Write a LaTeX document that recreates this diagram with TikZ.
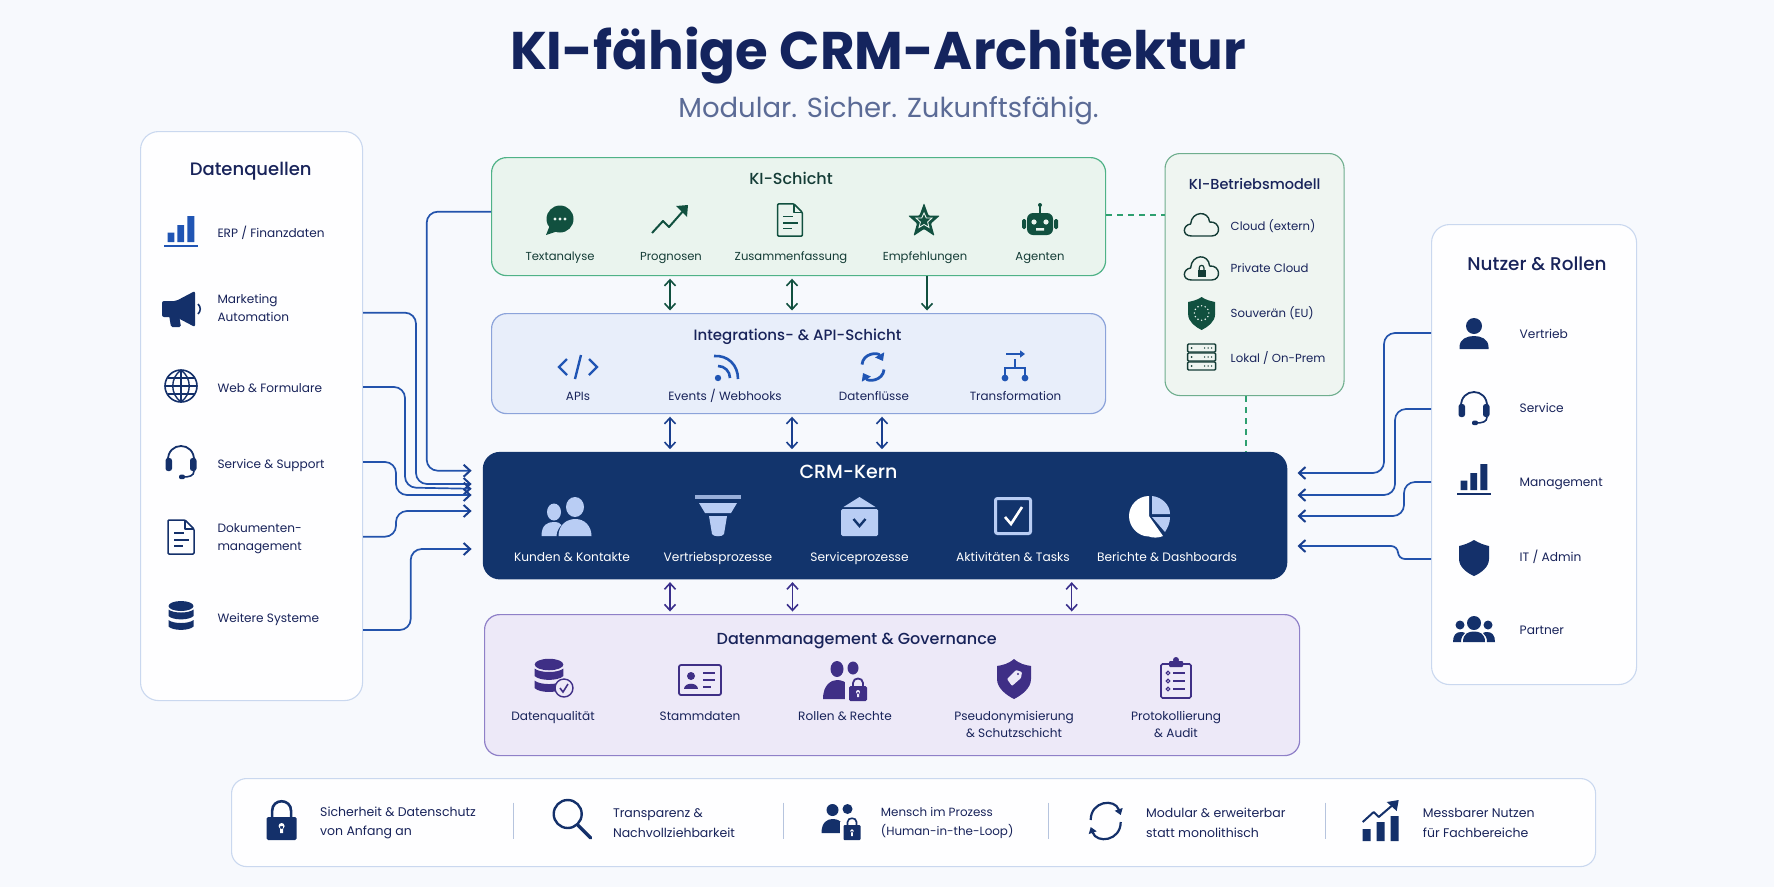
\documentclass[tikz,border=0pt]{standalone}
\usepackage{fontspec}
\setmainfont{Poppins}
\newfontfamily\pmed{Poppins Medium}
\newfontfamily\psemi{Poppins SemiBold}
\usetikzlibrary{arrows.meta,calc}
\definecolor{bgc}{HTML}{F7F9FD}
\definecolor{panelf}{HTML}{FEFEFF}
\definecolor{panelb}{HTML}{CAD8EF}
\definecolor{kif}{HTML}{EAF4EE}
\definecolor{kib}{HTML}{4FB287}
\definecolor{intf}{HTML}{E8EEFA}
\definecolor{intb}{HTML}{8CA3DA}
\definecolor{kernf}{HTML}{12346C}
\definecolor{datf}{HTML}{EDE9F8}
\definecolor{datb}{HTML}{8F80C8}
\definecolor{betf}{HTML}{EFF5F1}
\definecolor{betb}{HTML}{6FAE8E}
\definecolor{navy}{HTML}{14306A}
\definecolor{navytxt}{HTML}{18235A}
\definecolor{titlec}{HTML}{14245E}
\definecolor{subc}{HTML}{5B6B96}
\definecolor{greend}{HTML}{11503F}
\definecolor{greent}{HTML}{143C36}
\definecolor{blue2}{HTML}{2055B4}
\definecolor{link}{HTML}{2353AC}
\definecolor{linkd}{HTML}{1A3F8E}
\definecolor{purp}{HTML}{3F2F86}
\definecolor{purpl}{HTML}{3A2F8C}
\definecolor{lightb}{HTML}{B9CDF4}
\definecolor{dashg}{HTML}{2FA070}
\definecolor{sepc}{HTML}{B6C4DE}
\colorlet{icbg}{white}
\tikzset{
  panel/.style={draw=panelb,fill=panelf,line width=1.1pt,rounded corners=18pt,anchor=north west,inner sep=0pt},
  kibox/.style={draw=kib,fill=kif,line width=1.2pt,rounded corners=15pt,anchor=north west,inner sep=0pt},
  intbox/.style={draw=intb,fill=intf,line width=1.2pt,rounded corners=15pt,anchor=north west,inner sep=0pt},
  kernbox/.style={fill=kernf,rounded corners=17pt,anchor=north west,inner sep=0pt},
  datbox/.style={draw=datb,fill=datf,line width=1.2pt,rounded corners=15pt,anchor=north west,inner sep=0pt},
  betbox/.style={draw=betb,fill=betf,line width=1.1pt,rounded corners=15pt,anchor=north west,inner sep=0pt},
  head/.style={font=\pmed\fontsize{18}{22}\selectfont,text=navytxt,inner sep=0pt},
  layert/.style={font=\pmed\fontsize{15}{18}\selectfont,text=navytxt,inner sep=0pt},
  itemc/.style={font=\fontsize{11.6}{17.5}\selectfont,text=navytxt,inner sep=0pt,align=center,text height=10.3pt,text depth=1.3pt},
  iteml/.style={font=\fontsize{12.1}{18}\selectfont,text=navytxt,inner sep=0pt,align=left,anchor=west,text height=10.3pt,text depth=1.3pt},
  multi/.style={text height=,text depth=},
  botl/.style={font=\fontsize{12.5}{19.5}\selectfont,text=navytxt,inner sep=0pt,align=left,anchor=west},
  conn/.style={draw=link,line width=1.7pt,rounded corners=11pt,shorten >=11pt,-{Straight Barb[length=6.5pt,width=12pt,line width=2pt,color=linkd]}},
  gv/.style={draw=greend,line width=1.4pt,shorten <=2.5pt,shorten >=2.5pt,{Straight Barb[length=6pt,width=11pt,line width=1.6pt]}-{Straight Barb[length=6pt,width=11pt,line width=1.6pt]}},
  gdown/.style={draw=greend,line width=1.4pt,shorten >=2.5pt,-{Straight Barb[length=6pt,width=11pt,line width=1.6pt]}},
  bv/.style={draw=linkd,line width=1.4pt,shorten <=2.5pt,shorten >=2.5pt,{Straight Barb[length=6pt,width=11pt,line width=1.6pt]}-{Straight Barb[length=6pt,width=11pt,line width=1.6pt]}},
  pv/.style={draw=purpl,line width=1.4pt,shorten <=2.5pt,shorten >=2.5pt,{Straight Barb[length=6pt,width=11pt,line width=1.6pt]}-{Straight Barb[length=6pt,width=11pt,line width=1.6pt]}},
  gdash/.style={draw=dashg,line width=1.5pt,dash pattern=on 6pt off 5pt},
  sepl/.style={draw=sepc,line width=1pt},
  % ---- icons
  icbars/.pic={
    \fill (-13.3,0.7) rectangle (-6.7,10) (-3.7,-7) rectangle (3,10) (6.3,-16) rectangle (13.3,10);
    \fill (-17,13) rectangle (17,15.2);},
  icmega/.pic={
    \fill[rounded corners=2pt] (-19,-8) -- (-5,-8) -- (14,-18) -- (14,18) -- (-5,8) -- (-19,8) -- cycle;
    \fill[rounded corners=1.5pt] (-12,6) -- (-2,6) -- (0,18) -- (-10,18) -- cycle;
    \draw[line width=1.6pt] (17,-5) .. controls (20,-2) and (20,2) .. (17,5);},
  icglobe/.pic={
    \draw[line width=1.6pt] (0,0) circle (16);
    \draw[line width=1.4pt] (0,-16) .. controls (-11,-8) and (-11,8) .. (0,16) .. controls (11,8) and (11,-8) .. (0,-16);
    \draw[line width=1.4pt] (0,-16) -- (0,16) (-16,0) -- (16,0) (-13.5,-8) -- (13.5,-8) (-13.5,8) -- (13.5,8);},
  icphones/.pic={
    \draw[line width=1.8pt] (-13,-1) .. controls (-14,-21) and (14,-21) .. (13,-1);
    \fill[rounded corners=2.5pt] (-15.5,-4) rectangle (-9,9);
    \fill[rounded corners=2.5pt] (9,-4) rectangle (15.5,9);
    \draw[line width=1.6pt] (13,9) .. controls (13,14) and (8,15) .. (2,15);
    \fill[rounded corners=2pt] (-2,12.6) rectangle (4,17.2);},
  icdoc/.pic={
    \draw[line width=1.5pt,line join=round,rounded corners=1pt] (-13,-17) -- (4,-17) -- (13,-8) -- (13,17) -- (-13,17) -- cycle;
    \draw[line width=1.4pt,line join=round] (4,-17) -- (4,-8) -- (13,-8);
    \draw[line width=1.4pt] (-7,-4) -- (3,-4) (-7,3) -- (8,3) (-7,9) -- (2,9);},
  icdb/.pic={
    \fill (0,-10) ellipse (12.5 and 5);
    \foreach \d in {0,10.5}{
      \fill[shift={(0,\d)}] (-12.5,-6.5) .. controls (-8,-2.5) and (8,-2.5) .. (12.5,-6.5) -- (12.5,0) .. controls (8,4.5) and (-8,4.5) .. (-12.5,0) -- cycle;}
  },
  icchat/.pic={
    \fill (0,-1) circle (13.5);
    \fill (-10,5) -- (-14,15) -- (-2,11) -- cycle;
    \fill[icbg] (-5,-1) circle (1.6) (0,-1) circle (1.6) (5,-1) circle (1.6);},
  ictrend/.pic={
    \draw[line width=2pt,line join=round] (-18,13) -- (-7,1) -- (-1,7) -- (14,-10);
    \fill (6,-14) -- (18,-15) -- (17,-3) -- cycle;},
  icstar/.pic={
    \fill[rounded corners=1pt] (0,-18) -- (4.5,-5.5) -- (16,-5.5) -- (7,2.5) -- (10.5,15) -- (0,8) -- (-10.5,15) -- (-7,2.5) -- (-16,-5.5) -- (-4.5,-5.5) -- cycle;
    \draw[icbg,line width=0.9pt] (0,-8) -- (2.3,-3) -- (8,-3) -- (3.6,1) -- (5,6.5) -- (0,3.5) -- (-5,6.5) -- (-3.6,1) -- (-8,-3) -- (-2.3,-3) -- cycle;},
  icrobot/.pic={
    \fill[rounded corners=6pt] (-13,-7) rectangle (13,15);
    \fill[rounded corners=1.5pt] (-18,-1) rectangle (-14,9) (14,-1) rectangle (18,9);
    \draw[line width=1.4pt] (0,-7) -- (0,-14);
    \fill (0,-15) circle (2);
    \fill[icbg] (-6,2) circle (2.6) (6,2) circle (2.6) (-4,8) rectangle (4,10.5);},
  iccode/.pic={
    \draw[line width=2.4pt] (-11,-8) -- (-19,0) -- (-11,8) (11,-8) -- (19,0) -- (11,8) (3,-12) -- (-3,12);},
  icrss/.pic={
    \fill (-7,11) circle (3.2);
    \draw[line width=2.6pt] (-7,-1) arc[start angle=-90,end angle=0,radius=12];
    \draw[line width=2.6pt] (-11,-11) .. controls (3,-12) and (13,-2) .. (13,12);},
  icsync/.pic={
    \draw[line width=2.8pt,-{Triangle[length=7pt,width=10pt]}] (-11,-2.5) .. controls (-10,-14) and (5,-15) .. (10,-6);
    \draw[line width=2.8pt,-{Triangle[length=7pt,width=10pt]}] (11,2.5) .. controls (10,14) and (-5,15) .. (-10,6);},
  ictrans/.pic={
    \draw[line width=2pt,-{Triangle[length=5pt,width=7pt]}] (-9,-13) -- (10,-13);
    \draw[line width=1.8pt] (0,-8) -- (0,1) (-10,9) -- (-10,1) -- (10,1) -- (10,9);
    \fill (-10,11) circle (3.4) (10,11) circle (3.4);},
  icpeople/.pic={
    \fill (-12.5,-4) ellipse (7 and 8.5);
    \fill (8.5,-9) ellipse (9 and 10);
    \fill (-25,20) .. controls (-25,9) and (-19,6) .. (-13,6) .. controls (-9,6) and (-6,7) .. (-5,9) .. controls (-8,12) and (-10,16) .. (-10,20) -- cycle;
    \fill (-8,20) .. controls (-8,9) and (0,3) .. (9,3) .. controls (18,3) and (25,10) .. (25,20) -- cycle;},
  icfunnel/.pic={
    \fill[color=lightb!80!kernf] (-23,-21) rectangle (23,-17);
    \fill[color=lightb] (-19,-13) -- (19,-13) -- (13,-3) -- (-13,-3) -- cycle;
    \fill[color=lightb] (-9,0) -- (9,0) -- (6,18) .. controls (5,21) and (-5,21) .. (-6,18) -- cycle;},
  icmail/.pic={
    \fill[color=lightb] (0,-19) -- (16,-9) -- (-16,-9) -- cycle;
    \fill[color=lightb,rounded corners=1.5pt] (-18.5,-7) rectangle (18.5,20);
    \draw[draw=kernf,line width=2.4pt] (-6,3) -- (0,10) -- (6,3);},
  iccheck/.pic={
    \draw[color=lightb,line width=3pt,rounded corners=2pt] (-17.5,-17.5) rectangle (17.5,17.5);
    \draw[color=white,line width=2.6pt] (-8,1) -- (-2,8) -- (9,-9);},
  icpie/.pic={
    \fill[color=white] (0,0) -- (14,20) .. controls (10,22) and (3,22) .. (0,20.5)  .. controls (-11,20.5) and (-20,11) .. (-20,0) .. controls (-20,-11) and (-11,-20) .. (0,-20) -- cycle;
    \fill[color=lightb] (3,-2) -- (3,-20) .. controls (13,-19) and (21,-11) .. (21,-2) -- cycle;
    \fill[color=lightb] (3,1) -- (21,1) .. controls (21,7) and (19,11) .. (16,16) -- cycle;},
  icdbc/.pic={
    \begin{scope}[shift={(-3,-3)},scale=1.15]
    \fill (0,-10) ellipse (12.5 and 5);
    \foreach \d in {0,10.5}{
      \fill[shift={(0,\d)}] (-12.5,-6.5) .. controls (-8,-2.5) and (8,-2.5) .. (12.5,-6.5) -- (12.5,0) .. controls (8,4.5) and (-8,4.5) .. (-12.5,0) -- cycle;}
    \end{scope}
    \draw[fill=icbg,line width=1.4pt] (12,9) circle (9);
    \draw[line width=1.6pt] (8,9) -- (11,13) -- (16,5);},
  icid/.pic={
    \draw[line width=1.8pt,rounded corners=2pt] (-21,-15) rectangle (21,15);
    \fill (-9,-4) circle (4);
    \fill (-16,9) .. controls (-16,2) and (-2,2) .. (-2,9) -- cycle;
    \draw[line width=1.6pt] (3,-7) -- (15,-7) (3,0) -- (15,0) (3,7) -- (11,7);},
  icroles/.pic={
    \fill (-9,-11) ellipse (6.5 and 8);
    \fill (7,-12) ellipse (5.5 and 6.5);
    \fill (-23,19) .. controls (-23,4) and (-14,0) .. (-9,0) .. controls (-4,0) and (0,2) .. (2,5) -- (2,19) -- cycle;
    \draw[line width=1.5pt,draw=icbg,fill=icbg] (0,3) rectangle (22,22);
    \draw[line width=1.8pt] (7,6) -- (7,3) .. controls (7,-3) and (17,-3) .. (17,3) -- (17,6);
    \fill[rounded corners=1.5pt] (3,6) rectangle (21,21);
    \fill[icbg] (12,12) circle (2) (11,12) rectangle (13,17);},
  icshtag/.pic={
    \fill (0,-20) .. controls (6,-15) and (11,-14) .. (17,-13) -- (17,0) .. controls (17,9) and (8,16) .. (0,20) .. controls (-8,16) and (-17,9) .. (-17,0) -- (-17,-13) .. controls (-11,-14) and (-6,-15) .. (0,-20) -- cycle;
    \fill[icbg,rounded corners=1pt] (-7,0) -- (2,-9) -- (8,-7) -- (7,-1) -- (-2,7) -- cycle;
    \fill (4,-5) circle (1.2);},
  icclip/.pic={
    \draw[line width=1.7pt,rounded corners=1.5pt] (-15,-15) rectangle (15,19);
    \fill[rounded corners=1pt] (-7,-18) rectangle (7,-12);
    \fill (0,-19) circle (3);
    \foreach \y in {-6,2,10}{
      \draw[line width=1.1pt] (-8,\y) circle (1.8);
      \draw[line width=1.5pt] (-3,\y) -- (9,\y);}
  },
  iccloud/.pic={
    \draw[line width=1.4pt,line join=round] (-10,11) .. controls (-20,11) and (-19,0) .. (-11,-1) .. controls (-10,-14) and (7,-15) .. (8,-3) .. controls (19,-4) and (20,11) .. (10,11) -- cycle;},
  iccloudl/.pic={
    \draw[line width=1.4pt,line join=round] (-10,12) .. controls (-20,12) and (-19,1) .. (-11,0) .. controls (-10,-14) and (7,-15) .. (8,-2) .. controls (19,-3) and (20,12) .. (10,12) -- cycle;
    \fill (-4,2) rectangle (4,8.5);
    \draw[line width=1.2pt] (-2.4,2) -- (-2.4,0) .. controls (-2.4,-3.5) and (2.4,-3.5) .. (2.4,0) -- (2.4,2);},
  icsheu/.pic={
    \fill (0,-16) .. controls (4,-13) and (9,-12) .. (13.5,-11) -- (13.5,1) .. controls (13.5,9) and (6,14) .. (0,17) .. controls (-6,14) and (-13.5,9) .. (-13.5,1) -- (-13.5,-11) .. controls (-9,-12) and (-4,-13) .. (0,-16) -- cycle;
    \foreach \a in {0,30,...,330}{\fill[icbg] (\a:7.2) circle (0.8);}
  },
  icserver/.pic={
    \foreach \y in {-14,-5,4}{
      \draw[line width=1.3pt,rounded corners=1pt] (-14,\y) rectangle (14,\y+8);
      \fill (-10,\y+4) circle (1);
      \fill (3,\y+4) circle (0.8) (6.5,\y+4) circle (0.8) (10,\y+4) circle (0.8);}
  },
  icuser/.pic={
    \fill (0,-7) circle (8);
    \fill (-14.5,16) -- (-14.5,14) .. controls (-14.5,6) and (-7,3) .. (0,3) .. controls (7,3) and (14.5,6) .. (14.5,14) -- (14.5,16) -- cycle;},
  icshield/.pic={
    \fill (0,-18) .. controls (5,-15) and (10,-13) .. (15,-12) -- (15,1) .. controls (15,9) and (7,15) .. (0,18) .. controls (-7,15) and (-15,9) .. (-15,1) -- (-15,-12) .. controls (-10,-13) and (-5,-15) .. (0,-18) -- cycle;},
  icgroup/.pic={
    \fill (0,-7) circle (7) (-14,-5) circle (4.5) (14,-5) circle (4.5);
    \fill (-11,12) .. controls (-11,3) and (-5,1.5) .. (0,1.5) .. controls (5,1.5) and (11,3) .. (11,12) -- cycle;
    \fill (-21,12) .. controls (-21,5) and (-18,2) .. (-13,2) .. controls (-11,2) and (-10,2.5) .. (-9,3) .. controls (-11.5,5) and (-13,8) .. (-13,12) -- cycle;
    \fill (21,12) .. controls (21,5) and (18,2) .. (13,2) .. controls (11,2) and (10,2.5) .. (9,3) .. controls (11.5,5) and (13,8) .. (13,12) -- cycle;},
  iclock/.pic={
    \fill[rounded corners=1.5pt] (-15,-3) rectangle (15,20);
    \draw[line width=2.6pt] (-9.5,-3) -- (-9.5,-9) .. controls (-9.5,-22) and (9.5,-22) .. (9.5,-9) -- (9.5,-3);
    \fill[icbg] (0,6) circle (3) (-1.4,6) rectangle (1.4,13);},
  icmag/.pic={
    \draw[line width=2.4pt] (-5,-6) circle (14);
    \draw[line width=3.4pt,line cap=round] (5,5) -- (18,18);},
  icpplock/.pic={
    \fill (-8,-10) circle (6);
    \fill (7,-11) circle (5);
    \fill (-19,13) .. controls (-19,2) and (-13,-1) .. (-8,-1) .. controls (-3,-1) and (0,1) .. (1,3) -- (1,13) -- cycle;
    \draw[draw=icbg,fill=icbg] (0,2) rectangle (22,21);
    \draw[line width=1.6pt] (7,5) -- (7,2) .. controls (7,-3) and (16,-3) .. (16,2) -- (16,5);
    \fill[rounded corners=1pt] (3,5) rectangle (20,20);
    \fill[icbg] (11.5,11) circle (1.8) (10.6,11) rectangle (12.4,16);},
  icsyncb/.pic={
    \draw[line width=2.2pt,-{Triangle[length=6pt,width=8pt]}] (-15,-1) .. controls (-15,-20) and (9,-23) .. (15,-6);
    \draw[line width=2.2pt,-{Triangle[length=6pt,width=8pt]}] (15,1) .. controls (15,20) and (-9,23) .. (-15,6);},
  icgrow/.pic={
    \fill (-18,8) rectangle (-10,20) (-4,1) rectangle (4,20) (10,-5) rectangle (18,20);
    \draw[line width=2pt,line join=round] (-18,1) -- (-7,-9) -- (-2,-4) -- (12,-16);
    \fill (6,-19) -- (18,-21) -- (16,-10) -- cycle;},
}
\begin{document}
\begin{tikzpicture}[x=1pt,y=-1pt]
\useasboundingbox (0,0) rectangle (1774,887);
\fill[bgc] (0,0) rectangle (1774,887);

% title
\node[inner sep=0pt,text=titlec,font=\bfseries\fontsize{53}{58}\selectfont] (title) at (878,56) {KI-fähige CRM-Architektur};
\node[inner sep=0pt,text=subc,font=\fontsize{27.5}{30}\selectfont] (subtitle) at (888.5,111) {Modular. Sicher. Zukunftsfähig.};

% boxes
\node[panel,minimum width=222pt,minimum height=569pt] (dq) at (140,131) {};
\node[panel,minimum width=205pt,minimum height=460pt] (nu) at (1431,224) {};
\node[kibox,minimum width=614pt,minimum height=118pt] (ki) at (491,157) {};
\node[intbox,minimum width=614pt,minimum height=100pt] (int) at (491,313) {};
\node[kernbox,minimum width=804.5pt,minimum height=127.5pt] (kern) at (482.6,451.7) {};
\node[datbox,minimum width=815pt,minimum height=141pt] (dat) at (484,614) {};
\node[betbox,minimum width=179pt,minimum height=242pt] (bet) at (1164.5,153) {};
\node[panel,minimum width=1364pt,minimum height=88pt,rounded corners=15pt] (bar) at (231,778) {};

% connectors left
\draw[conn] (ki.west |- 0,211.7) -- (426.7,211.7) -- (426.7,470.7) -- (kern.west |- 0,470.7);
\draw[conn] (dq.east |- 0,312.7) -- (416,312.7) -- (416,484) -- (kern.west |- 0,484);
\draw[conn] (dq.east |- 0,387) -- (405,387) -- (405,487.5) -- (kern.west |- 0,489);
\draw[conn] (dq.east |- 0,462) -- (396,462) -- (396,495) -- (kern.west |- 0,495);
\draw[conn] (dq.east |- 0,536.7) -- (396,536.7) -- (396,511) -- (kern.west |- 0,511);
\draw[conn] (dq.east |- 0,630) -- (410.7,630) -- (410.7,549) -- (kern.west |- 0,549);
% connectors right
\draw[conn,shorten >=10pt] (nu.west |- 0,333) -- (1384,333) -- (1384,473) -- (kern.east |- 0,473);
\draw[conn,shorten >=10pt] (nu.west |- 0,409) -- (1395,409) -- (1395,495) -- (kern.east |- 0,495);
\draw[conn,shorten >=10pt] (nu.west |- 0,482) -- (1404,482) -- (1404,516) -- (kern.east |- 0,516);
\draw[conn,rounded corners=7pt,shorten >=10pt] (nu.west |- 0,559) -- (1398,559) -- (1398,546) -- (kern.east |- 0,546);
% vertical
\draw[gv] (670,0 |- ki.south) -- (670,0 |- int.north);
\draw[gv] (792,0 |- ki.south) -- (792,0 |- int.north);
\draw[gdown] (927,0 |- ki.south) -- (927,0 |- int.north);
\draw[bv] (670,0 |- int.south) -- (670,0 |- kern.north);
\draw[bv] (792,0 |- int.south) -- (792,0 |- kern.north);
\draw[bv] (882,0 |- int.south) -- (882,0 |- kern.north);
\draw[pv] (670,0 |- kern.south) -- (670,0 |- dat.north);
\draw[pv] (792.5,0 |- kern.south) -- (792.5,0 |- dat.north);
\draw[pv] (1071.7,0 |- kern.south) -- (1071.7,0 |- dat.north);
\draw[gdash] (ki.east |- 0,215) -- (bet.west |- 0,215);
\draw[gdash] (1246,0 |- bet.south) -- (1246,0 |- kern.north);

% Datenquellen
\colorlet{icbg}{white}
\node[head] (dqt) at (250.7,171) {Datenquellen};
\pic[color=blue2] at (181,232) {icbars};
\pic[color=navy] at (181,309) {icmega};
\pic[color=navy] at (181,386) {icglobe};
\pic[color=navy] at (181,462) {icphones};
\pic[color=navy] at (181,537) {icdoc};
\pic[color=navy] at (181,616) {icdb};
\node[iteml] (d1) at (217.3,233) {ERP / Finanzdaten};
\node[iteml,multi] (d2) at (217.3,308) {Marketing\\Automation};
\node[iteml] (d3) at (217.3,388) {Web \& Formulare};
\node[iteml] (d4) at (217.3,464) {Service \& Support};
\node[iteml,multi] (d5) at (217.3,539) {Dokumenten-\\management};
\node[iteml] (d6) at (217.3,618) {Weitere Systeme};

% KI-Schicht
\colorlet{icbg}{kif}
\node[layert,text=greent,font=\pmed\fontsize{16}{18}\selectfont] (kit) at (791,178) {KI-Schicht};
\pic[color=greend] at (560,220) {icchat};
\pic[color=greend] at (670,220) {ictrend};
\pic[color=greend,scale=0.95] at (790,220) {icdoc};
\pic[color=greend] at (924,221) {icstar};
\pic[color=greend] at (1040,220) {icrobot};
\node[itemc,text=greent] (k1) at (560,255.5) {Textanalyse};
\node[itemc,text=greent] (k2) at (671,255.5) {Prognosen};
\node[itemc,text=greent] (k3) at (791,255.5) {Zusammenfassung};
\node[itemc,text=greent] (k4) at (925,255.5) {Empfehlungen};
\node[itemc,text=greent] (k5) at (1040,255.5) {Agenten};

% Integration
\colorlet{icbg}{intf}
\node[layert] (intt) at (797.5,337) {Integrations- \& API-Schicht};
\pic[color=blue2] at (578,367) {iccode};
\pic[color=blue2] at (725,367) {icrss};
\pic[color=blue2] at (873,367) {icsync};
\pic[color=blue2] at (1015,367) {ictrans};
\node[itemc,font=\fontsize{11.9}{17.5}\selectfont] (i1) at (578,396) {APIs};
\node[itemc,font=\fontsize{12}{17.5}\selectfont] (i2) at (725,396) {Events / Webhooks};
\node[itemc,font=\fontsize{11.9}{17.5}\selectfont] (i3) at (874,396) {Datenflüsse};
\node[itemc,font=\fontsize{11.9}{17.5}\selectfont] (i4) at (1015.5,396) {Transformation};

% Kern
\colorlet{icbg}{kernf}
\node[layert,text=white,font=\pmed\fontsize{19}{22}\selectfont] (kernt) at (848.5,472) {CRM-Kern};
\pic[color=lightb] at (566.5,516) {icpeople};
\pic[color=lightb] at (718,516) {icfunnel};
\pic[color=lightb] at (859.5,516) {icmail};
\pic[color=lightb] at (1013,516) {iccheck};
\pic at (1149,516) {icpie};
\tikzset{ctxt/.style={itemc,text=white,font=\fontsize{12.2}{17.5}\selectfont}}
\node[ctxt] (c1) at (572,556.5) {Kunden \& Kontakte};
\node[ctxt] (c2) at (718,556.5) {Vertriebsprozesse};
\node[ctxt] (c3) at (859.5,556.5) {Serviceprozesse};
\node[ctxt] (c4) at (1013,556.5) {Aktivitäten \& Tasks};
\node[ctxt] (c5) at (1167,556.5) {Berichte \& Dashboards};

% Daten
\colorlet{icbg}{datf}
\node[layert,font=\pmed\fontsize{16}{18}\selectfont] (datt) at (856.7,640.5) {Datenmanagement \& Governance};
\pic[color=purp] at (552,679) {icdbc};
\pic[color=purp] at (700,680) {icid};
\pic[color=purp] at (846,680) {icroles};
\pic[color=purp] at (1014,679) {icshtag};
\pic[color=purp] at (1176,679) {icclip};
\tikzset{mtxt/.style={itemc,font=\fontsize{12.1}{17.5}\selectfont}}
\node[mtxt] (m1) at (553,716) {Datenqualität};
\node[mtxt] (m2) at (700,716) {Stammdaten};
\node[mtxt] (m3) at (845,716) {Rollen \& Rechte};
\node[mtxt,multi] (m4) at (1014,724.5) {Pseudonymisierung\\\& Schutzschicht};
\node[mtxt,multi] (m5) at (1176,724.5) {Protokollierung\\\& Audit};

% Betrieb
\colorlet{icbg}{betf}
\node[layert,font=\pmed\fontsize{14.5}{18}\selectfont] (bett) at (1254.7,183.7) {KI-Betriebsmodell};
\pic[color=greent] at (1201.6,225) {iccloud};
\pic[color=greent] at (1201.6,268) {iccloudl};
\pic[color=greend] at (1201.6,313) {icsheu};
\pic[color=greent] at (1201.6,358) {icserver};
\tikzset{btxt/.style={iteml,font=\fontsize{11.7}{18}\selectfont}}
\node[btxt] (b1) at (1230.5,225.7) {Cloud (extern)};
\node[btxt] (b2) at (1230.5,268) {Private Cloud};
\node[btxt] (b3) at (1230.5,312.7) {Souverän (EU)};
\node[btxt] (b4) at (1230.5,358) {Lokal / On-Prem};

% Nutzer
\colorlet{icbg}{white}
\node[head,font=\pmed\fontsize{18.4}{22}\selectfont] (nut) at (1537,263.5) {Nutzer \& Rollen};
\pic[color=navy] at (1474,333) {icuser};
\pic[color=navy] at (1474,408) {icphones};
\pic[color=navy] at (1474,480) {icbars};
\pic[color=navy] at (1474,558) {icshield};
\pic[color=navy] at (1474,630) {icgroup};
\tikzset{ntxt/.style={iteml,font=\fontsize{12.2}{18}\selectfont}}
\node[ntxt] (n1) at (1519.5,334) {Vertrieb};
\node[ntxt] (n2) at (1519.5,408) {Service};
\node[ntxt] (n3) at (1519.5,482) {Management};
\node[ntxt] (n4) at (1519.5,556.7) {IT / Admin};
\node[ntxt] (n5) at (1519.5,630) {Partner};

% Bottom bar
\pic[color=navy] at (281.6,820) {iclock};
\pic[color=navy] at (572.7,820) {icmag};
\pic[color=navy] at (840.5,820) {icpplock};
\pic[color=navy] at (1105.7,821) {icsyncb};
\pic[color=navy] at (1380.7,821) {icgrow};
\node[botl] (f1) at (320,823) {Sicherheit \& Datenschutz\\von Anfang an};
\node[botl] (f2) at (612.8,823) {Transparenz \&\\Nachvollziehbarkeit};
\node[botl,font=\fontsize{11.9}{19.5}\selectfont] (f3) at (880.7,823) {Mensch im Prozess\\(Human-in-the-Loop)};
\node[botl] (f4) at (1146,823) {Modular \& erweiterbar\\statt monolithisch};
\node[botl] (f5) at (1422.7,823) {Messbarer Nutzen\\für Fachbereiche};
\draw[sepl] (513.7,802.7) -- (513.7,839);
\draw[sepl] (783.4,802.7) -- (783.4,839);
\draw[sepl] (1048.6,802.7) -- (1048.6,839);
\draw[sepl] (1325,802.7) -- (1325,839);
\end{tikzpicture}
\end{document}
